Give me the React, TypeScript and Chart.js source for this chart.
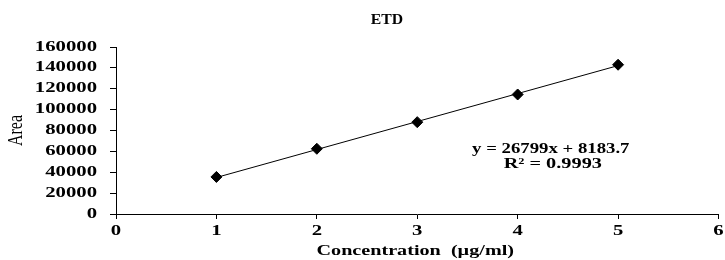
import React, { useEffect, useRef } from "react";
import { Chart, registerables } from "chart.js";

Chart.register(...registerables);

const concentrations = [1, 2, 3, 4, 5];
const areas = [35500, 62500, 88000, 114500, 143000];
const trendX = [1, 5];
const trendY = [34983, 142179];
const yTicks = [0, 20000, 40000, 60000, 80000, 100000, 120000, 140000, 160000];
const xTicks = [0, 1, 2, 3, 4, 5, 6];
const chartTitle = "ETD";
const xTitle = "Concentration  (µg/ml)";
const yTitle = "Area";
const equationLines = ["y = 26799x + 8183.7", "R² = 0.9993"];

const FONT = "'Liberation Serif', 'Times New Roman', serif";

function stretchedText(ctx: CanvasRenderingContext2D, text: string, x: number, y: number, font: string, sx: number, align: CanvasTextAlign, rotate = 0) {
  ctx.save();
  ctx.translate(x, y);
  ctx.scale(sx, 1);
  if (rotate) ctx.rotate(rotate);
  ctx.font = font;
  ctx.textAlign = align;
  ctx.textBaseline = "middle";
  ctx.fillStyle = "#000";
  ctx.fillText(text, 0, 0);
  ctx.restore();
}

const overlayPlugin = {
  id: "overlayText",
  afterDraw(chart: any) {
    const ctx = chart.ctx as CanvasRenderingContext2D;
    const xs = chart.scales.x;
    const ys = chart.scales.y;
    const tickFont = `bold 14px ${FONT}`;
    // title
    stretchedText(ctx, chartTitle, 387, 20, `bold 15px ${FONT}`, 1.05, "center");
    // y tick labels
    yTicks.forEach((v) => {
      stretchedText(ctx, String(v), xs.left - 19, ys.getPixelForValue(v), tickFont, 1.48, "right");
    });
    // x tick labels
    xTicks.forEach((v) => {
      stretchedText(ctx, String(v), xs.getPixelForValue(v), ys.bottom + 17, tickFont, 1.48, "center");
    });
    // axis titles
    stretchedText(ctx, xTitle, (xs.left + xs.right) / 2 - 2, ys.bottom + 37, `bold 14px ${FONT}`, 1.44, "center");
    stretchedText(ctx, yTitle, 17, (ys.top + ys.bottom) / 2, `16px ${FONT}`, 1.3, "center", -Math.PI / 2);
    // equation
    const cx = xs.getPixelForValue(4.33);
    const cy = ys.getPixelForValue(62000);
    stretchedText(ctx, equationLines[0], cx, cy, `bold 14px ${FONT}`, 1.34, "center");
    stretchedText(ctx, equationLines[1], cx + 2, cy + 15, `bold 14px ${FONT}`, 1.45, "center");
  },
};

export default function App() {
  const ref = useRef<HTMLCanvasElement>(null);
  useEffect(() => {
    document.body.style.margin = "0";
    const chart = new Chart(ref.current as HTMLCanvasElement, {
      type: "scatter",
      data: {
        datasets: [
          {
            data: concentrations.map((x, i) => ({ x, y: areas[i] })),
            pointStyle: "rectRot",
            pointRadius: 5.5,
            backgroundColor: "#000",
            borderColor: "#000",
            showLine: false,
            order: 0,
          },
          {
            data: trendX.map((x, i) => ({ x, y: trendY[i] })),
            showLine: true,
            borderColor: "#000",
            borderWidth: 1,
            pointRadius: 0,
            order: 1,
          },
        ],
      },
      options: {
        animation: false,
        responsive: false,
        devicePixelRatio: 1,
        layout: { padding: { top: 47, right: 4, left: 0, bottom: 0 } },
        plugins: { legend: { display: false }, tooltip: { enabled: false }, title: { display: false } },
        scales: {
          x: {
            type: "linear",
            min: 0,
            max: 6,
            afterFit: (s: any) => { s.height = 46; },
            afterBuildTicks: (s: any) => { s.ticks = xTicks.map((v) => ({ value: v })); },
            grid: { display: true, drawOnChartArea: false, drawTicks: true, tickLength: 5, color: "#000", lineWidth: 1 },
            border: { display: true, color: "#000", width: 1 },
            ticks: { display: false },
            title: { display: false },
          },
          y: {
            type: "linear",
            min: 0,
            max: 160000,
            afterFit: (s: any) => { s.width = 116; },
            afterBuildTicks: (s: any) => { s.ticks = yTicks.map((v) => ({ value: v })); },
            grid: { display: true, drawOnChartArea: false, drawTicks: true, tickLength: 6, color: "#000", lineWidth: 1 },
            border: { display: true, color: "#000", width: 1 },
            ticks: { display: false },
            title: { display: false },
          },
        },
      },
      plugins: [overlayPlugin],
    });
    return () => chart.destroy();
  }, []);
  return (
    <div style={{ position: "absolute", left: 0, top: 0, width: 725, height: 260, background: "#fff" }}>
      <canvas ref={ref} width={725} height={260} />
    </div>
  );
}
